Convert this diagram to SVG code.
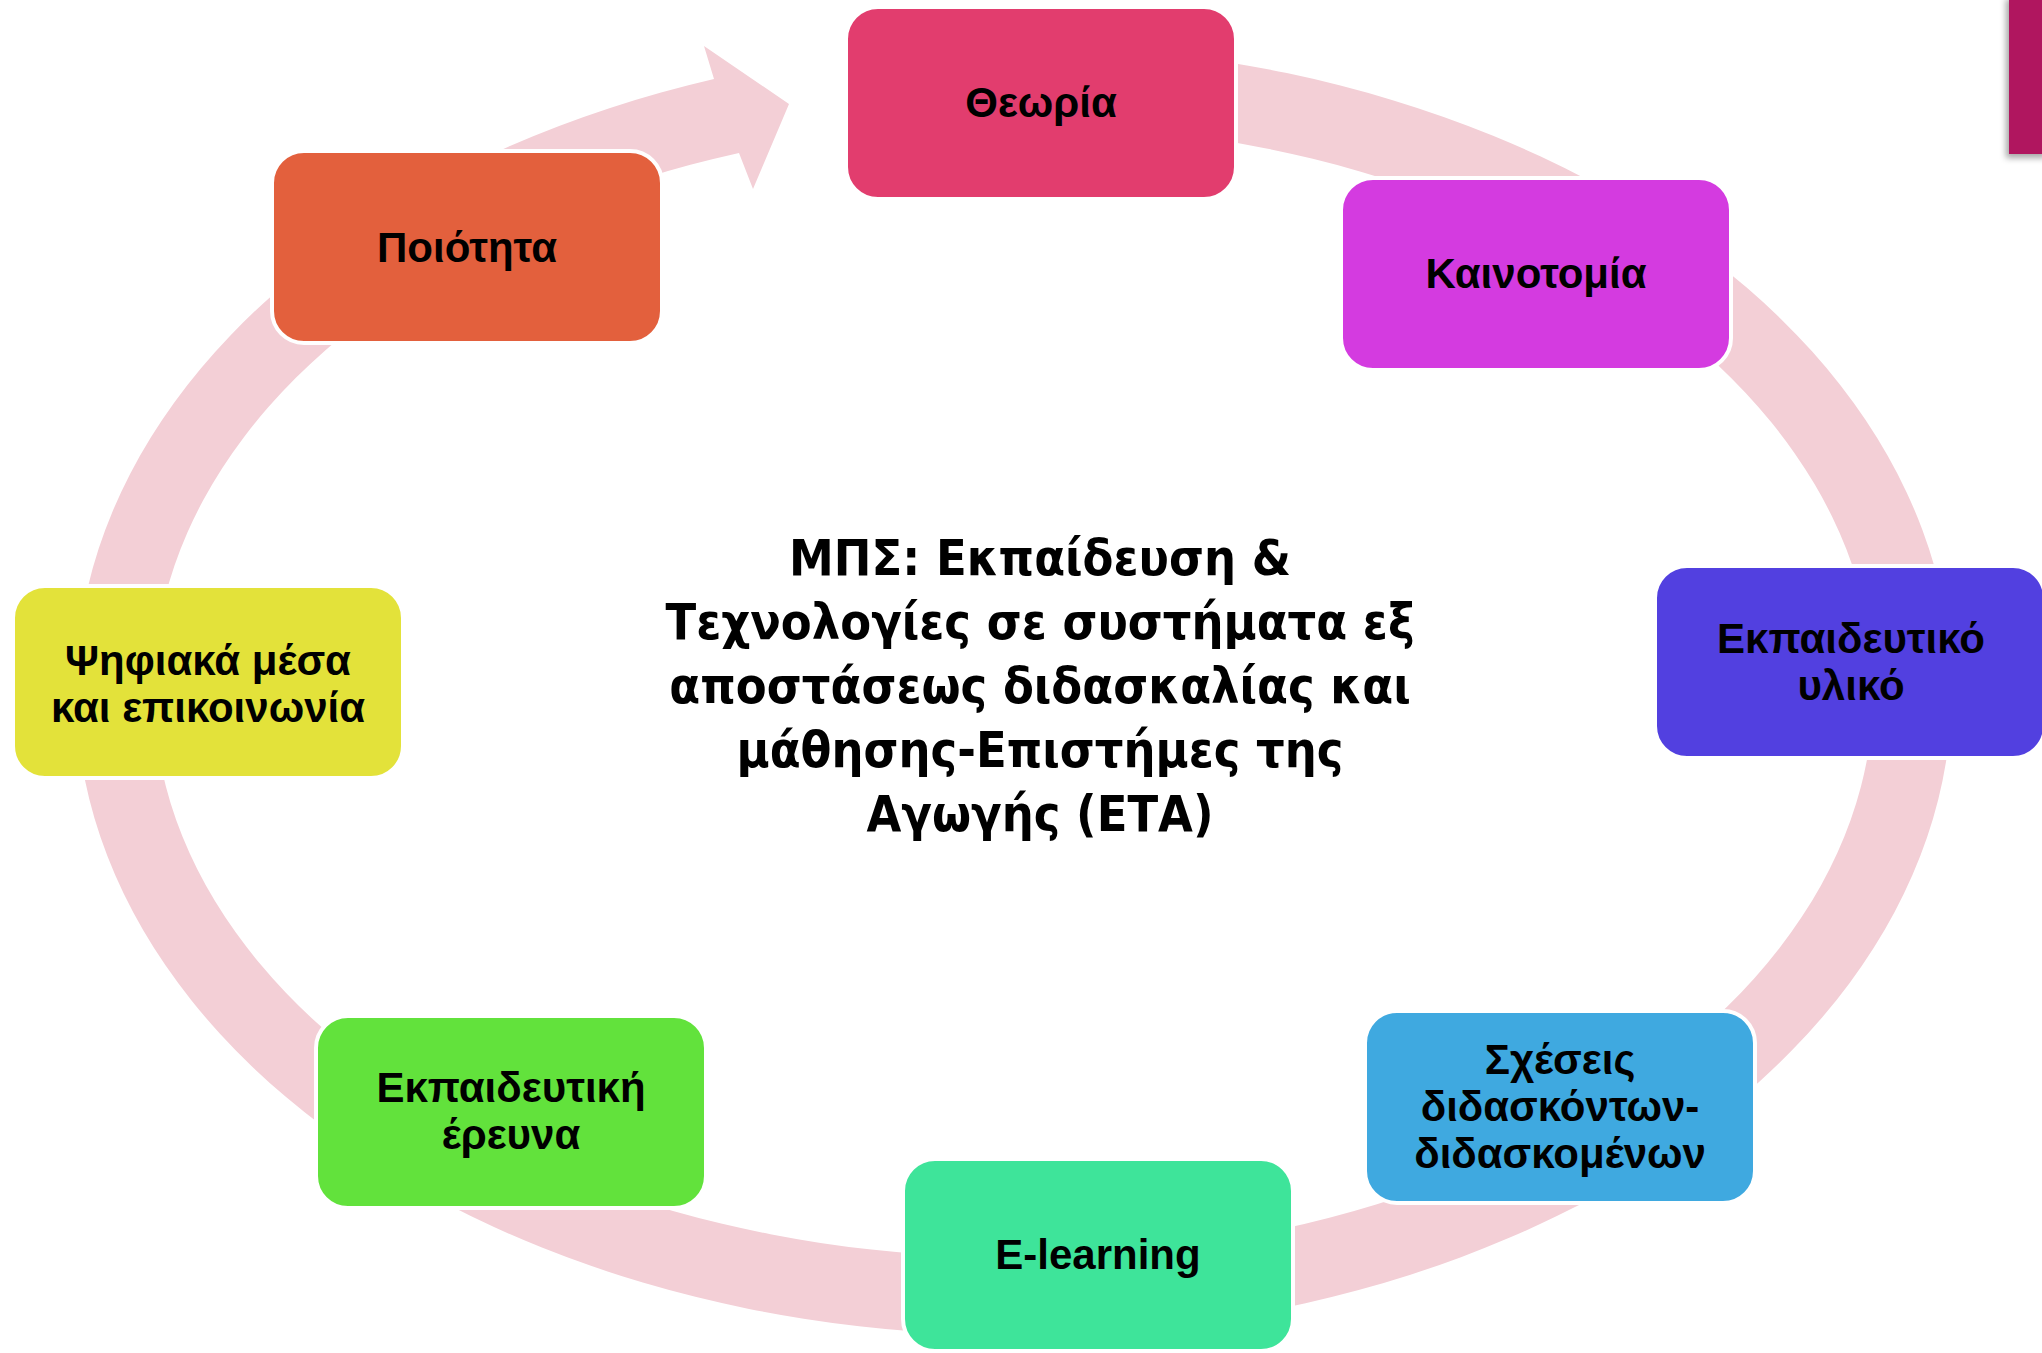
<svg xmlns="http://www.w3.org/2000/svg" width="2042" height="1353" viewBox="0 0 2042 1353">
<defs>
<style>
.box{stroke:#ffffff;stroke-width:4}
.lbl{font-family:"Liberation Sans","DejaVu Sans",sans-serif;font-weight:bold;font-size:42px;fill:#000;text-anchor:middle}
.title{font-family:"DejaVu Sans Condensed","DejaVu Sans",sans-serif;font-weight:bold;font-size:50px;fill:#000;text-anchor:middle}
</style>
<filter id="sh" x="-50%" y="-20%" width="200%" height="150%">
<feDropShadow dx="-3" dy="4" stdDeviation="3" flood-color="#000" flood-opacity="0.35"/>
</filter>
</defs>
<rect width="2042" height="1353" fill="#ffffff"/>
<rect x="2009" y="-5" width="40" height="159" fill="#B0125E" filter="url(#sh)"/>
<g id="connectors">
<path d="M 1177 55 A 938 645 0 1 1 714 79 L 704 46 L 789 104 L 753 189 L 739 153 A 860 567 0 1 0 1163 132 Z" fill="#F3CFD6"/>
</g>
<g id="node-theoria">
<rect class="box" x="846" y="7" width="390" height="192" rx="32" fill="#E23D6E"/>
<text class="lbl" x="1041" y="117">Θεωρία</text>
</g>
<g id="node-kainotomia">
<rect class="box" x="1341" y="178" width="390" height="192" rx="32" fill="#D43BE0"/>
<text class="lbl" x="1536" y="288">Καινοτομία</text>
</g>
<g id="node-ekp-yliko">
<rect class="box" x="1655" y="566" width="390" height="192" rx="32" fill="#5240E0"/>
<text class="lbl" x="1851" y="653">Εκπαιδευτικό</text>
<text class="lbl" x="1851" y="700">υλικό</text>
</g>
<g id="node-sxeseis">
<rect class="box" x="1365" y="1011" width="390" height="192" rx="32" fill="#3FA9E0"/>
<text class="lbl" x="1560" y="1074">Σχέσεις</text>
<text class="lbl" x="1560" y="1121">διδασκόντων-</text>
<text class="lbl" x="1560" y="1168">διδασκομένων</text>
</g>
<g id="node-elearning">
<rect class="box" x="903" y="1159" width="390" height="192" rx="32" fill="#3EE49A"/>
<text class="lbl" x="1098" y="1269">E-learning</text>
</g>
<g id="node-ekp-ereuna">
<rect class="box" x="316" y="1016" width="390" height="192" rx="32" fill="#62E23C"/>
<text class="lbl" x="511" y="1102">Εκπαιδευτική</text>
<text class="lbl" x="511" y="1149">έρευνα</text>
</g>
<g id="node-psifiaka">
<rect class="box" x="13" y="586" width="390" height="192" rx="32" fill="#E3E23A"/>
<text class="lbl" x="208" y="675">Ψηφιακά μέσα</text>
<text class="lbl" x="208" y="722">και επικοινωνία</text>
</g>
<g id="node-poiotita">
<rect class="box" x="272" y="151" width="390" height="192" rx="32" fill="#E3603D"/>
<text class="lbl" x="467" y="262">Ποιότητα</text>
</g>
<g id="center-title">
<text class="title" x="1040" y="575">ΜΠΣ: Εκπαίδευση &amp;</text>
<text class="title" x="1040" y="639">Τεχνολογίες σε συστήματα εξ</text>
<text class="title" x="1040" y="703">αποστάσεως διδασκαλίας και</text>
<text class="title" x="1040" y="767">μάθησης-Επιστήμες της</text>
<text class="title" x="1040" y="831">Αγωγής (ΕΤΑ)</text>
</g>
</svg>
